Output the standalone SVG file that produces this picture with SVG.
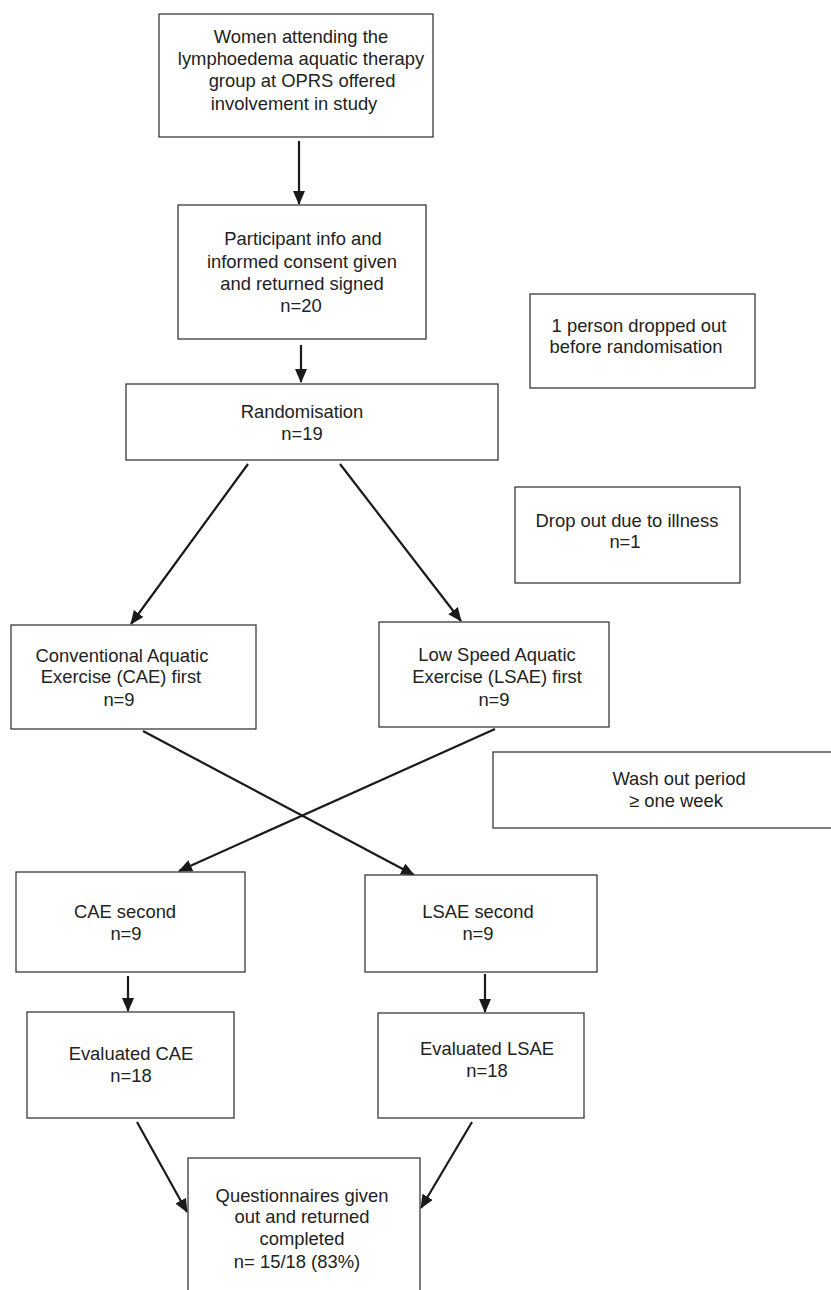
<svg xmlns="http://www.w3.org/2000/svg" width="831" height="1290" viewBox="0 0 831 1290">
<style>
.box{fill:#fff;stroke:#3a3a3a;stroke-width:1.3}
text{font-family:"Liberation Sans",Arial,sans-serif;font-size:18.4px;fill:#222;text-anchor:middle}
.arr{stroke:#1a1a1a;stroke-width:2.2;fill:none;marker-end:url(#ah)}
</style>
<defs>
<marker id="ah" markerUnits="userSpaceOnUse" markerWidth="14" markerHeight="12" refX="13" refY="6" orient="auto">
<path d="M0,0 L14,6 L0,12 Z" fill="#1a1a1a"/>
</marker>
</defs>
<rect width="831" height="1290" fill="#fff"/>
<g id="connectors">
<line class="arr" x1="299" y1="141" x2="299" y2="204"/>
<line class="arr" x1="301" y1="345" x2="301" y2="382"/>
<line class="arr" x1="248" y1="464" x2="131" y2="624"/>
<line class="arr" x1="340" y1="464" x2="461" y2="621"/>
<line class="arr" x1="143" y1="731" x2="414" y2="875"/>
<line class="arr" x1="495" y1="729" x2="179" y2="871"/>
<line class="arr" x1="128" y1="976" x2="128" y2="1011"/>
<line class="arr" x1="485" y1="974" x2="485" y2="1012"/>
<line class="arr" x1="137" y1="1122" x2="187" y2="1212"/>
<line class="arr" x1="472" y1="1122" x2="421" y2="1208"/>
</g>
<g id="n1">
<rect class="box" x="159" y="14" width="274" height="123"/>
<text x="301" y="43">Women attending the</text>
<text x="301" y="65">lymphoedema aquatic therapy</text>
<text x="302" y="87">group at OPRS offered</text>
<text x="294" y="110">involvement in study</text>
</g>
<g id="n2">
<rect class="box" x="178" y="205" width="248" height="134"/>
<text x="303" y="245">Participant info and</text>
<text x="302" y="268">informed consent given</text>
<text x="302" y="290">and returned signed</text>
<text x="301" y="312">n=20</text>
</g>
<g id="n3">
<rect class="box" x="530" y="294" width="225" height="94"/>
<text x="639" y="332">1 person dropped out</text>
<text x="636" y="353">before randomisation</text>
</g>
<g id="n4">
<rect class="box" x="126" y="384" width="372" height="76"/>
<text x="302" y="418">Randomisation</text>
<text x="302" y="440">n=19</text>
</g>
<g id="n5">
<rect class="box" x="515" y="487" width="225" height="96"/>
<text x="627" y="527">Drop out due to illness</text>
<text x="625" y="548">n=1</text>
</g>
<g id="n6">
<rect class="box" x="11" y="625" width="245" height="104"/>
<text x="122" y="662">Conventional Aquatic</text>
<text x="121" y="683">Exercise (CAE) first</text>
<text x="119" y="706">n=9</text>
</g>
<g id="n7">
<rect class="box" x="379" y="622" width="230" height="105"/>
<text x="497" y="661">Low Speed Aquatic</text>
<text x="497" y="683">Exercise (LSAE) first</text>
<text x="494" y="706">n=9</text>
</g>
<g id="n8">
<rect class="box" x="493" y="752" width="345" height="76"/>
<text x="679" y="785">Wash out period</text>
<text x="676" y="807">≥ one week</text>
</g>
<g id="n9">
<rect class="box" x="16" y="872" width="229" height="100"/>
<text x="125" y="918">CAE second</text>
<text x="126" y="940">n=9</text>
</g>
<g id="n10">
<rect class="box" x="365" y="875" width="232" height="97"/>
<text x="478" y="918">LSAE second</text>
<text x="478" y="940">n=9</text>
</g>
<g id="n11">
<rect class="box" x="27" y="1012" width="207" height="106"/>
<text x="131" y="1060">Evaluated CAE</text>
<text x="131" y="1082">n=18</text>
</g>
<g id="n12">
<rect class="box" x="378" y="1013" width="206" height="105"/>
<text x="487" y="1055">Evaluated LSAE</text>
<text x="487" y="1077">n=18</text>
</g>
<g id="n13">
<rect class="box" x="188" y="1158" width="232" height="140"/>
<text x="302" y="1202">Questionnaires given</text>
<text x="302" y="1223">out and returned</text>
<text x="302" y="1245">completed</text>
<text x="297" y="1268">n= 15/18 (83%)</text>
</g>
</svg>
